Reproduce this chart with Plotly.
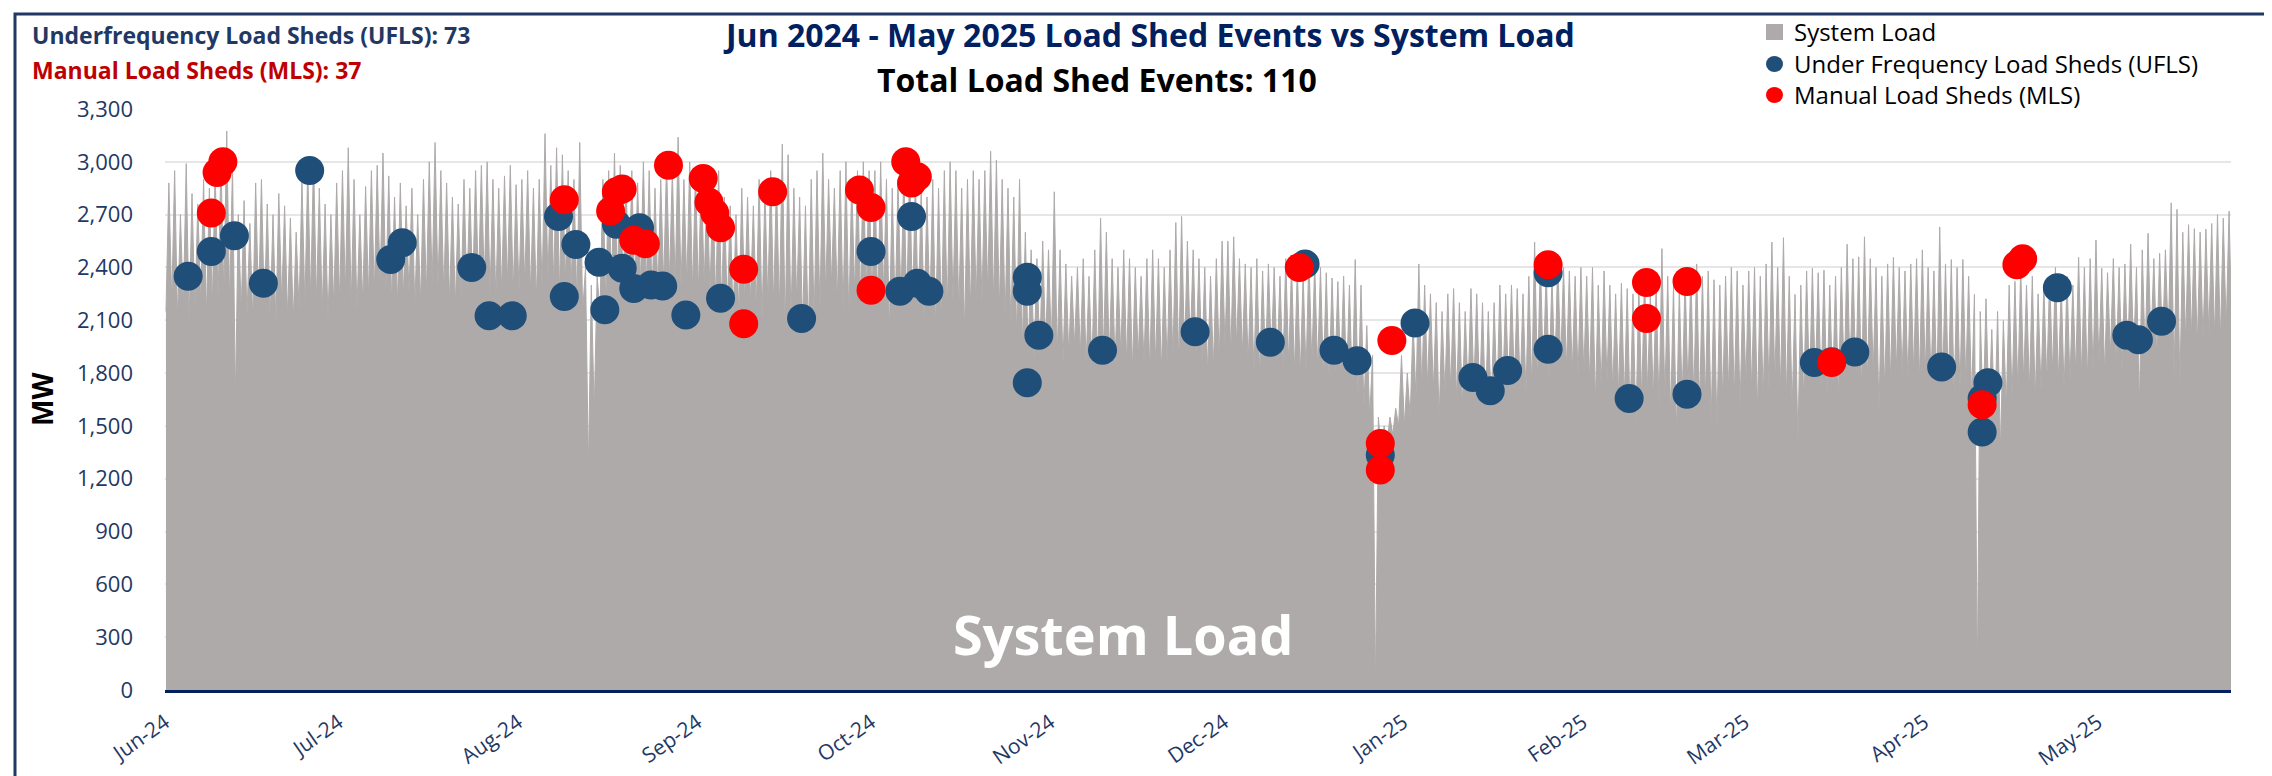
import pandas as pd
import plotly.graph_objects as go

# daily system load (MW): overnight low and afternoon peak
low_jun24 = [2150, 2200, 2100, 2180, 2080, 2150, 2200, 2120, 2180, 2220, 2250, 2200, 1650, 2150, 2120,
             2100, 2180, 2150, 2100, 2080, 2200, 2120, 2100, 2160, 2180, 2220, 2200, 2150, 2100, 2180]
high_jun24 = [2880, 2950, 2700, 2990, 2820, 2760, 2900, 2850, 2950, 3000, 3175, 2980, 2700, 2780, 2650,
              2880, 2900, 2760, 2700, 2820, 2750, 2680, 2600, 2900, 2970, 3020, 2850, 2760, 2700, 2880]
low_jul24 = [2200, 2250, 2180, 2150, 2200, 2230, 2250, 2300, 2260, 2200, 2180, 2220, 2250, 2180, 2200,
             2240, 2300, 2280, 2250, 2200, 2180, 2230, 2250, 2270, 2280, 2300, 2250, 2220, 2260, 2300, 2250]
high_jul24 = [2950, 3080, 2900, 2700, 2860, 2950, 2980, 3050, 2920, 2800, 2880, 2750, 2850, 2700, 2900,
              3000, 3110, 2950, 2880, 2800, 2760, 2900, 2850, 2950, 2980, 3000, 2900, 2850, 2920, 2980, 2870]
low_aug24 = [2250, 2300, 2250, 2200, 2280, 2320, 2300, 2250, 2300, 2260, 2200, 2150, 1250, 1580, 2150,
             2200, 2280, 2300, 2250, 2260, 2240, 2300, 2280, 2220, 2250, 2300, 2320, 2300, 2280, 2300, 2260]
high_aug24 = [2900, 2950, 2850, 2900, 3160, 2980, 3080, 3040, 2950, 2900, 3110, 2400, 2300, 2350, 2900,
              2950, 3050, 2980, 2900, 2950, 2880, 3000, 2950, 2850, 2900, 3000, 2950, 3140, 2900, 3000, 2950]
low_sep24 = [2250, 2300, 2250, 2200, 2180, 2150, 2100, 2120, 2200, 2200, 2150, 2100, 2200, 2180, 2150,
             2050, 2100, 2200, 2050, 2010, 2100, 2150, 2250, 2300, 2200, 2150, 2100, 2250, 2200, 2250]
high_sep24 = [2950, 2900, 2850, 2950, 2800, 2750, 2700, 2850, 2800, 2750, 2900, 2850, 2950, 2900, 3100,
              3040, 2850, 2800, 2750, 2900, 2950, 3050, 2900, 2850, 2950, 3000, 2900, 2950, 3000, 2950]
low_oct24 = [2200, 2150, 2250, 2030, 2150, 2200, 2150, 2150, 2100, 2100, 2150, 2050, 2100, 2150, 2200,
             2150, 2030, 2150, 2200, 2200, 2250, 2200, 2150, 2100, 2050, 2000, 1950, 1900, 1880, 1900, 1950]
high_oct24 = [2950, 3000, 2900, 2850, 2900, 2950, 3000, 2900, 2850, 2800, 2900, 2850, 2950, 3000, 2950,
              2850, 2900, 2950, 2900, 2950, 3060, 3010, 2900, 2850, 2800, 2900, 2600, 2500, 2450, 2550, 2500]
low_nov24 = [1950, 1900, 1850, 1900, 1950, 1900, 1850, 1830, 1820, 1900, 1880, 1850, 1900, 1850, 1820,
             1880, 1850, 1810, 1850, 1800, 1850, 1880, 1850, 1900, 1950, 1900, 1850, 1800, 1830, 1880]
high_nov24 = [2830, 2500, 2420, 2350, 2400, 2450, 2350, 2500, 2680, 2600, 2450, 2400, 2500, 2450, 2400,
              2350, 2450, 2500, 2450, 2400, 2500, 2655, 2690, 2550, 2500, 2450, 2400, 2350, 2450, 2550]
low_dec24 = [1950, 1900, 1950, 1900, 1850, 1800, 1780, 1850, 1900, 1850, 1820, 1850, 1800, 1780, 1800,
             1850, 1820, 1780, 1750, 1800, 1780, 1750, 1700, 1650, 1600, 1550, 0, 1350, 1400, 1450, 1500]
high_dec24 = [2550, 2574, 2450, 2420, 2400, 2450, 2380, 2420, 2400, 2350, 2450, 2420, 2400, 2360, 2470,
              2420, 2400, 2370, 2340, 2320, 2350, 2300, 2445, 2300, 2070, 1900, 1550, 1500, 1550, 1600, 1900]
low_jan25 = [1500, 1550, 1650, 1700, 1720, 1700, 1530, 1680, 1700, 1650, 1600, 1700, 1720, 1650, 1600,
             1580, 1650, 1700, 1720, 1750, 1700, 1680, 1720, 1750, 1780, 1750, 1800, 1850, 1820, 1800, 1780]
high_jan25 = [1800, 2100, 2420, 2300, 2250, 2200, 2150, 2250, 2280, 2200, 2150, 2280, 2250, 2200, 2150,
              2200, 2300, 2250, 2300, 2280, 2250, 2350, 2545, 2450, 2400, 2350, 2450, 2400, 2380, 2350, 2400]
low_feb25 = [1800, 1750, 1630, 1700, 1750, 1700, 1680, 1650, 1550, 1480, 1650, 1700, 1650, 1600,
             1650, 1550, 1450, 1650, 1700, 1650, 1600, 1650, 1500, 1480, 1650, 1700, 1650, 1600]
high_feb25 = [2350, 2400, 2300, 2380, 2300, 2250, 2310, 2280, 2250, 2300, 2350, 2250, 2300, 2507,
              2350, 2300, 2280, 2350, 2380, 2420, 2350, 2380, 2330, 2300, 2350, 2400, 2380, 2300]
low_mar25 = [1750, 1700, 1580, 1650, 1700, 1750, 1700, 1650, 1600, 1400, 1650, 1700, 1750, 1700, 1650,
             1700, 1652, 1750, 1800, 1750, 1700, 1750, 1800, 1578, 1700, 1750, 1800, 1780, 1750, 1800, 1750]
high_mar25 = [2380, 2400, 2350, 2420, 2544, 2400, 2569, 2350, 2247, 2300, 2380, 2395, 2370, 2385, 2300,
              2350, 2400, 2532, 2450, 2460, 2574, 2450, 2400, 2350, 2420, 2457, 2400, 2380, 2420, 2450, 2500]
low_apr25 = [1800, 1750, 1700, 1750, 1700, 1650, 1700, 1750, 1650, 30, 1550, 1580, 1500, 1355, 1600,
             1650, 1700, 1750, 1700, 1650, 1700, 1750, 1800, 1750, 1700, 1750, 1800, 1780, 1750, 1800]
high_apr25 = [2400, 2380, 2630, 2420, 2445, 2400, 2445, 2350, 2247, 2150, 2222, 2048, 2150, 2098, 2300,
              2321, 2395, 2300, 2350, 2250, 2300, 2350, 2400, 2300, 2350, 2300, 2457, 2400, 2450, 2556]
low_may25 = [1850, 1800, 1900, 1850, 1800, 1880, 1900, 1603, 1900, 1950, 1900, 1950, 2000, 1776, 1726,
             1980, 2000, 1950, 1980, 2020, 2000, 1980, 2050, 2000]
high_may25 = [2395, 2370, 2450, 2400, 2420, 2532, 2400, 2500, 2594, 2450, 2480, 2500, 2767, 2730, 2600,
              2643, 2620, 2600, 2618, 2650, 2700, 2680, 2720, 2767]

# load shed events
ufls_dates = ["2024-06-05", "2024-06-09", "2024-06-13", "2024-06-18", "2024-06-26", "2024-07-10",
              "2024-07-12", "2024-07-24", "2024-07-27", "2024-07-31", "2024-08-08", "2024-08-09",
              "2024-08-11", "2024-08-15", "2024-08-16", "2024-08-18", "2024-08-19", "2024-08-21",
              "2024-08-22", "2024-08-24", "2024-08-26", "2024-08-30", "2024-09-05", "2024-09-19",
              "2024-10-01", "2024-10-06", "2024-10-08", "2024-10-09", "2024-10-11", "2024-10-28",
              "2024-10-28", "2024-10-28", "2024-10-30", "2024-11-10", "2024-11-26", "2024-12-09",
              "2024-12-15", "2024-12-20", "2024-12-24", "2024-12-28", "2025-01-03", "2025-01-13",
              "2025-01-16", "2025-01-19", "2025-01-26", "2025-01-26", "2025-02-09", "2025-02-19",
              "2025-03-13", "2025-03-16", "2025-03-20", "2025-04-04", "2025-04-12", "2025-04-11",
              "2025-04-11", "2025-04-24", "2025-05-06", "2025-05-08", "2025-05-12"]
ufls_mw = [2350, 2490, 2580, 2310, 2950, 2445, 2540, 2400, 2125, 2125, 2690, 2235, 2530, 2430, 2160,
           2645, 2395, 2280, 2625, 2300, 2295, 2130, 2225, 2110, 2490, 2265, 2690, 2310, 2265, 2345,
           2265, 1745, 2015, 1930, 2035, 1975, 2420, 1930, 1870, 1335, 2085, 1775, 1700, 1815, 2370,
           1935, 1655, 1680, 1860, 1865, 1920, 1835, 1745, 1655, 1465, 2285, 2015, 1990, 2095]

mls_dates = ["2024-06-09", "2024-06-10", "2024-06-11", "2024-08-09", "2024-08-17", "2024-08-18",
             "2024-08-19", "2024-08-21", "2024-08-23", "2024-08-27", "2024-09-02", "2024-09-03",
             "2024-09-04", "2024-09-05", "2024-09-09", "2024-09-09", "2024-09-14", "2024-09-29",
             "2024-10-01", "2024-10-01", "2024-10-07", "2024-10-08", "2024-10-09", "2024-12-14",
             "2024-12-30", "2024-12-28", "2024-12-28", "2025-01-26", "2025-02-12", "2025-02-12",
             "2025-02-19", "2025-03-16", "2025-04-11", "2025-04-17", "2025-04-18"]
mls_mw = [2710, 2940, 3000, 2785, 2720, 2830, 2845, 2555, 2535, 2980, 2905, 2770, 2710, 2625, 2390,
          2080, 2830, 2840, 2740, 2270, 3000, 2880, 2915, 2400, 1985, 1400, 1250, 2415, 2315, 2110,
          2320, 1860, 1620, 2415, 2450]

month_ticks = ["2024-06-01", "2024-07-01", "2024-08-01", "2024-09-01", "2024-10-01", "2024-11-01",
               "2024-12-01", "2025-01-01", "2025-02-01", "2025-03-01", "2025-04-01", "2025-05-01"]
month_labels = ["Jun-24", "Jul-24", "Aug-24", "Sep-24", "Oct-24", "Nov-24",
                "Dec-24", "Jan-25", "Feb-25", "Mar-25", "Apr-25", "May-25"]

legend_names = ["System Load", "Under Frequency Load Sheds (UFLS)", "Manual Load Sheds (MLS)"]

load_months = [
    ("2024-06-01", low_jun24, high_jun24), ("2024-07-01", low_jul24, high_jul24),
    ("2024-08-01", low_aug24, high_aug24), ("2024-09-01", low_sep24, high_sep24),
    ("2024-10-01", low_oct24, high_oct24), ("2024-11-01", low_nov24, high_nov24),
    ("2024-12-01", low_dec24, high_dec24), ("2025-01-01", low_jan25, high_jan25),
    ("2025-02-01", low_feb25, high_feb25), ("2025-03-01", low_mar25, high_mar25),
    ("2025-04-01", low_apr25, high_apr25), ("2025-05-01", low_may25, high_may25),
]

load_x, load_y = [], []
for start, lows, highs in load_months:
    for i, (lo, hi) in enumerate(zip(lows, highs)):
        day = pd.Timestamp(start) + pd.Timedelta(days=i)
        load_x += [day + pd.Timedelta(hours=4), day + pd.Timedelta(hours=16)]
        load_y += [lo, hi]

GRAY = "#AEAAAA"
BLUE = "#1F4E79"
RED = "#FF0000"
NAVY = "#1F3864"
FONT = "Open Sans"

W, H = 2272, 776
L, R, T, B = 157, 49, 101, 94


def px(x):
    return (x - L) / (W - L - R)


def py(y):
    return (H - B - y) / (H - T - B)


fig = go.Figure()
fig.add_trace(go.Scatter(x=load_x, y=load_y, mode="lines", fill="tozeroy", name=legend_names[0],
                         line=dict(color=GRAY, width=1), fillcolor=GRAY, hoverinfo="skip"))
fig.add_trace(go.Scatter(x=ufls_dates, y=ufls_mw, mode="markers", name=legend_names[1],
                         marker=dict(color=BLUE, size=29, line=dict(width=0))))
fig.add_trace(go.Scatter(x=mls_dates, y=mls_mw, mode="markers", name=legend_names[2],
                         marker=dict(color=RED, size=29, line=dict(width=0))))

fig.update_xaxes(type="date", range=["2024-06-01", "2025-05-24"],
                 tickvals=month_ticks, ticktext=month_labels, tickangle=-35,
                 tickfont=dict(family=FONT, size=21, color=NAVY),
                 showgrid=False, showline=True, linecolor="#002060", linewidth=3,
                 ticks="", ticklabelstandoff=9, zeroline=False)
fig.update_yaxes(range=[0, 3300], dtick=300, tickformat=",d",
                 tickfont=dict(family=FONT, size=22, color=NAVY),
                 showgrid=True, gridcolor="#E6E6E6", gridwidth=1.5,
                 showline=False, zeroline=False, ticks="", ticklabelstandoff=31)

annotations = [
    dict(text="<b>Underfrequency Load Sheds (UFLS): 73</b>", x=px(22), y=py(27),
         xanchor="left", font=dict(size=23, color=NAVY)),
    dict(text="<b>Manual Load Sheds (MLS): 37</b>", x=px(22), y=py(62),
         xanchor="left", font=dict(size=23, color="#C00000")),
    dict(text="<b>Jun 2024 - May 2025 Load Shed Events vs System Load</b>", x=px(1141), y=py(27),
         xanchor="center", font=dict(size=32, color="#002060")),
    dict(text="<b>Total Load Shed Events: 110</b>", x=px(1089), y=py(72),
         xanchor="center", font=dict(size=32, color="black")),
    dict(text="<b>MW</b>", x=px(34), y=py(391), textangle=-90,
         xanchor="center", font=dict(size=28, color="black")),
    dict(text="<b>System Load</b>", x=px(1115), y=py(626),
         xanchor="center", font=dict(size=54, color="white")),
]
# legend text, placed like the original chart's legend block
legend_rows = [24, 56, 87]
for name, row in zip(legend_names, legend_rows):
    annotations.append(dict(text=name, x=px(1784), y=py(row), xanchor="left",
                            font=dict(size=24, color="black")))
for a in annotations:
    a.update(xref="paper", yref="paper", yanchor="middle", showarrow=False)
    a["font"]["family"] = FONT

shapes = [dict(type="rect", xref="paper", yref="paper",
               x0=px(7), x1=px(2262), y0=py(800), y1=py(6),
               line=dict(color=NAVY, width=3), layer="above")]
legend_symbols = [("rect", GRAY), ("circle", BLUE), ("circle", RED)]
for (kind, color), row in zip(legend_symbols, legend_rows):
    shapes.append(dict(type=kind, xref="paper", yref="paper",
                       x0=px(1758), x1=px(1775), y0=py(row + 8), y1=py(row - 8),
                       fillcolor=color, line=dict(width=0)))

fig.update_layout(
    width=W, height=H,
    margin=dict(l=L, r=R, t=T, b=B, autoexpand=False),
    paper_bgcolor="white", plot_bgcolor="white",
    font=dict(family=FONT, color="black"),
    showlegend=False,
    annotations=annotations,
    shapes=shapes,
)

fig.write_html("out.html")
